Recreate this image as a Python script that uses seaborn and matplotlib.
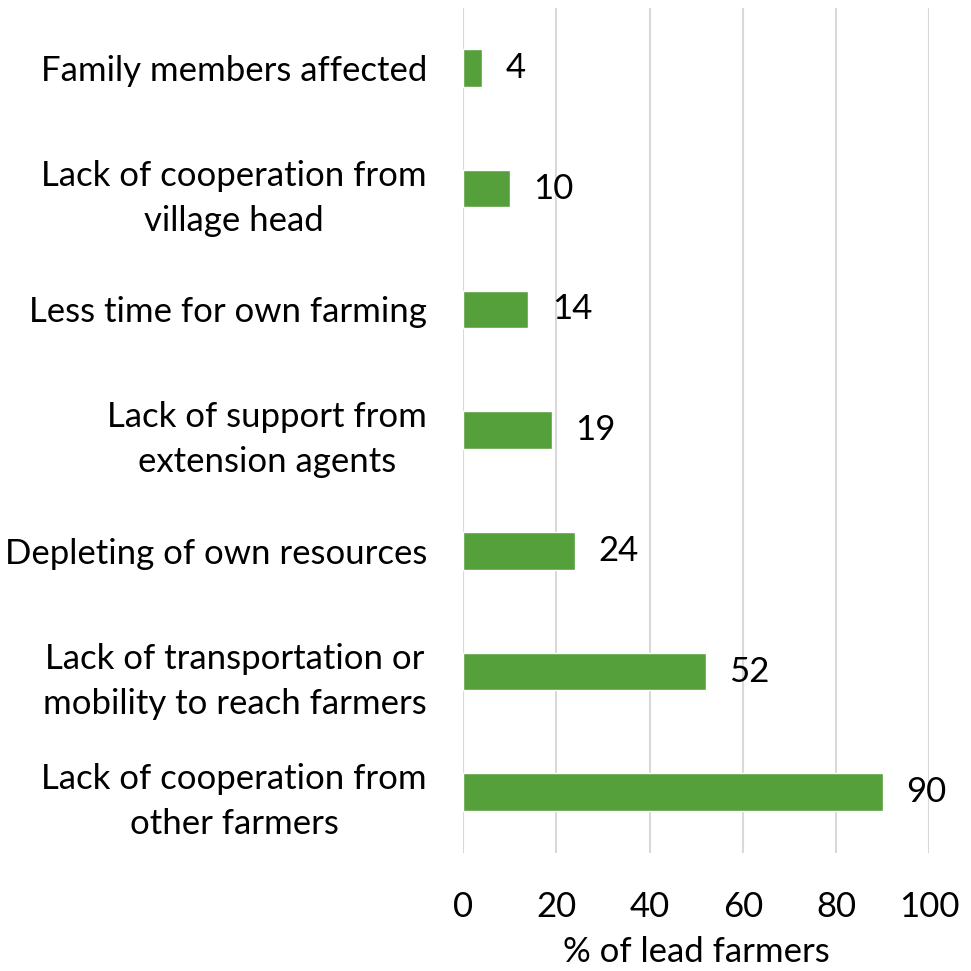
import matplotlib
matplotlib.use("Agg")
import matplotlib.pyplot as plt
import seaborn as sns
import pandas as pd

categories = [
    "Family members affected",
    "Lack of cooperation from\nvillage head",
    "Less time for own farming",
    "Lack of support from\nextension agents",
    "Depleting of own resources",
    "Lack of transportation or\nmobility to reach farmers",
    "Lack of cooperation from\nother farmers",
]
values = [4, 10, 14, 19, 24, 52, 90]
x_ticks = [0, 20, 40, 60, 80, 100]
x_label = "% of lead farmers"

sns.set_theme(style="white")
plt.rcParams["font.family"] = ["Lato", "DejaVu Sans"]
plt.rcParams["text.color"] = "black"
plt.rcParams["xtick.color"] = "black"
plt.rcParams["ytick.color"] = "black"
plt.rcParams["axes.labelcolor"] = "black"

df = pd.DataFrame({"issue": categories, "pct": values})

fig = plt.figure(figsize=(9.71, 9.71), dpi=100)
ax = fig.add_axes([0.477, 0.122, 0.48, 0.870])

sns.barplot(data=df, y="issue", x="pct", orient="h", color="#56A03C",
            saturation=1, width=0.31, ax=ax)

ax.set_xlim(0, 100)
ax.set_ylim(len(categories) - 0.5, -0.5)
ax.set_xticks(x_ticks)
ax.xaxis.grid(True, color="#D9D9D9", linewidth=1.5)
ax.set_axisbelow(True)
for s in ax.spines.values():
    s.set_visible(False)

fs = 25
ax.tick_params(axis="x", length=0, pad=28, labelsize=fs)
ax.tick_params(axis="y", length=0, pad=26, labelsize=fs)
for lbl in ax.get_yticklabels():
    lbl.set_multialignment("center")
    lbl.set_linespacing(1.5)

ax.set_ylabel("")
ax.set_xlabel(x_label, fontsize=fs, labelpad=9)

for cont in ax.containers:
    ax.bar_label(cont, labels=[str(v) for v in values], padding=17, fontsize=fs)

fig.savefig("out.png", dpi=100, facecolor="white")
